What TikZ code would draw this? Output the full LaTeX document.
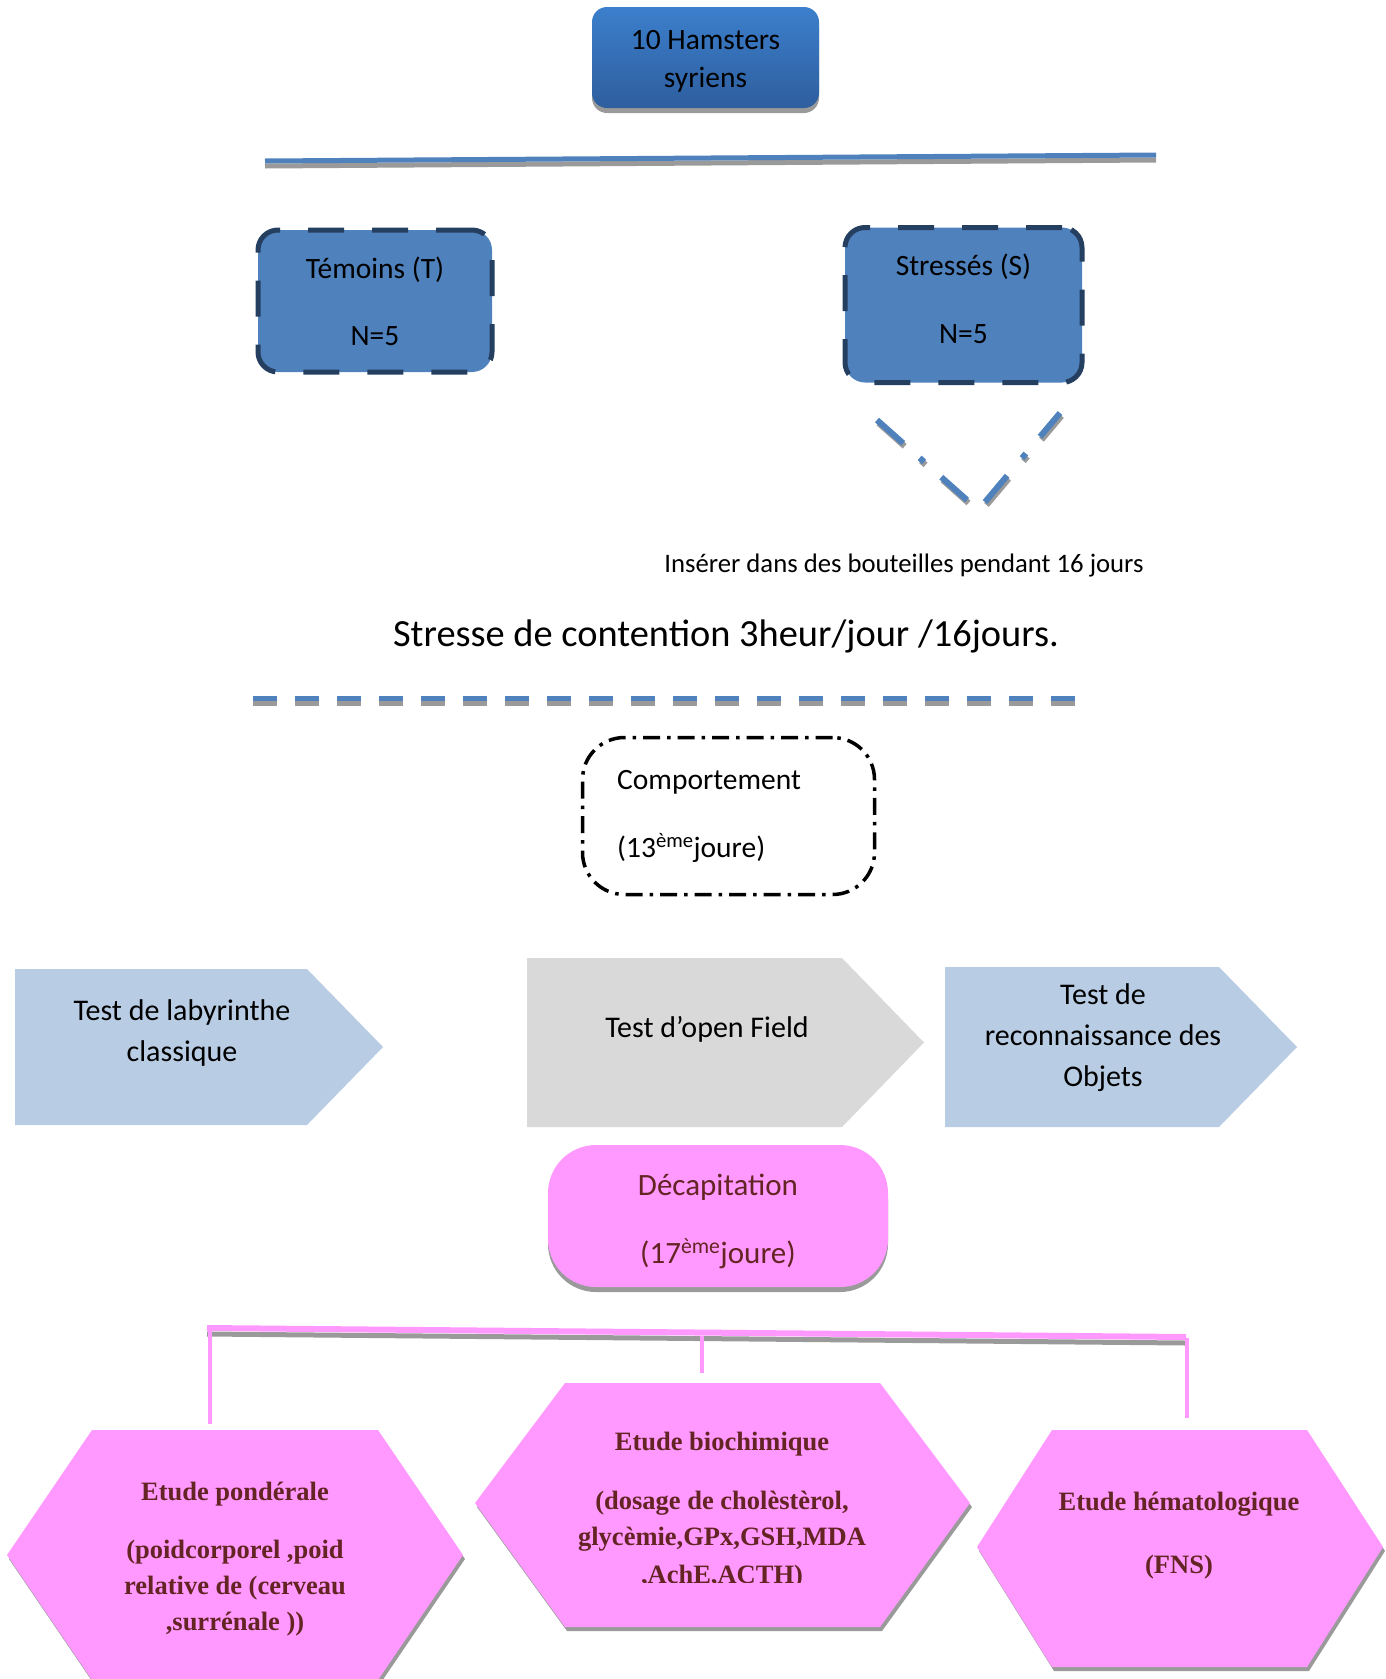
\documentclass[tikz,border=0pt]{standalone}
\usepackage{fontspec}
\setmainfont{Carlito}
\newfontfamily\tnrfont{Liberation Serif}
\usetikzlibrary{calc}
\definecolor{hamtop}{HTML}{3C7FCC}
\definecolor{hambot}{HTML}{2E5E9E}
\definecolor{grpfill}{HTML}{4F81BD}
\definecolor{grpline}{HTML}{243F60}
\definecolor{lineblue}{HTML}{4F81BD}
\definecolor{shadowgray}{HTML}{9A9A9A}
\definecolor{chevblue}{HTML}{B8CCE4}
\definecolor{chevgray}{HTML}{D9D9D9}
\definecolor{pinkfill}{HTML}{FF99FF}
\definecolor{maroontxt}{HTML}{632423}
\begin{document}
\begin{tikzpicture}[x=1pt,y=-1pt,
  cal/.style={font=\fontsize{29.5}{35}\selectfont, anchor=base, inner sep=0pt},
  calsm/.style={font=\fontsize{26.7}{31}\selectfont, anchor=base, inner sep=0pt},
  calbig/.style={font=\fontsize{38.4}{44}\selectfont, anchor=base, inner sep=0pt},
  comptext/.style={font=\fontsize{29.5}{34}\selectfont, anchor=base west, inner sep=0pt},
  dectext/.style={font=\fontsize{31}{36}\selectfont, text=maroontxt, anchor=base, inner sep=0pt},
  hexfont/.style={font=\tnrfont\bfseries\fontsize{26.5}{32}\selectfont, text=maroontxt, anchor=base, inner sep=0pt},
  hambox/.style={rectangle, rounded corners=15pt, top color=hamtop, bottom color=hambot, draw=none, inner sep=0pt},
  grpbox/.style={rectangle, draw=grpline, fill=grpfill, line width=5pt, dash pattern=on 36pt off 28pt, rounded corners=20pt, inner sep=0pt},
  compbox/.style={rectangle, draw=black, line width=3.5pt, dash pattern=on 17pt off 7pt on 3.5pt off 7pt, rounded corners=42pt, inner sep=0pt},
  decbox/.style={rectangle, fill=pinkfill, rounded corners=48pt, inner sep=0pt},
  vline/.style={lineblue, line width=6pt},
  vshadow/.style={shadowgray, line width=6pt},
]
\useasboundingbox (0,0) rectangle (1385,1679);

% ---------- top box ----------
\fill[shadowgray, rounded corners=15pt] (592,13) rectangle (819,113);
\node[hambox, minimum width=227pt, minimum height=101pt] (ham) at (705.5,57.5) {};
\node[cal] (hamt1) at (705.5,49) {10 Hamsters};
\node[cal] (hamt2) at (705.5,87) {syriens};

% ---------- separator line ----------
\coordinate (sepL) at (265,161);
\coordinate (sepR) at (1156,155);
\draw[shadowgray, line width=5pt] ($(sepL)+(0,5)$) -- ($(sepR)+(0,5)$);
\draw[lineblue, line width=5pt] (sepL) -- (sepR);

% ---------- groups ----------
\node[grpbox, minimum width=234pt, minimum height=142pt] (tem) at (375,301) {};
\node[cal] (temt1) at (375,278) {Témoins (T)};
\node[cal] (temt2) at (375,345) {N=5};

\node[grpbox, minimum width=237pt, minimum height=155pt] (str) at (963.5,305) {};
\node[cal] (strt1) at (963.5,275) {Stressés (S)};
\node[cal] (strt2) at (963.5,343) {N=5};

% ---------- V dash-dot ----------
\coordinate (v1a) at (877,420);
\coordinate (v1b) at (967,500);
\coordinate (v2a) at (1060,413);
\coordinate (v2b) at (985,502);
\draw[vshadow, dash pattern=on 35pt off 22pt on 6pt off 23pt on 60pt] ($(v1a)+(1.5,3)$) -- ($(v1b)+(1.5,3)$);
\draw[vshadow, dash pattern=on 31pt off 22pt on 6pt off 23pt on 60pt] ($(v2a)+(1.5,3)$) -- ($(v2b)+(1.5,3)$);
\draw[vline, dash pattern=on 35pt off 22pt on 6pt off 23pt on 60pt] (v1a) -- (v1b);
\draw[vline, dash pattern=on 31pt off 22pt on 6pt off 23pt on 60pt] (v2a) -- (v2b);

% ---------- texts ----------
\node[calsm] (ins) at (904,572) {Insérer dans des bouteilles pendant 16 jours};
\node[calbig] (stc) at (726,646) {Stresse de contention 3heur/jour /16jours.};

% ---------- dashed separator ----------
\coordinate (dsL) at (253,698);
\coordinate (dsR) at (1075,698);
\draw[shadowgray, line width=5pt, dash pattern=on 24pt off 18pt] ($(dsL)+(0,5)$) -- ($(dsR)+(0,5)$);
\draw[lineblue, line width=5pt, dash pattern=on 24pt off 18pt] (dsL) -- (dsR);

% ---------- comportement ----------
\node[compbox, minimum width=292pt, minimum height=157pt] (comp) at (728.5,816) {};
\node[comptext] (compt1) at (617,789) {Comportement};
\node[comptext] (compt2) at (617,857) {(13\textsuperscript{ème}joure)};

% ---------- chevrons ----------
\fill[chevblue] (15,969) -- (307,969) -- (383,1047) -- (307,1125) -- (15,1125) -- cycle;
\node[cal, font=\fontsize{30}{35}\selectfont] (lab1) at (182,1020) {Test de labyrinthe};
\node[cal, font=\fontsize{30}{35}\selectfont] (lab2) at (182,1061) {classique};

\fill[chevgray] (527,958) -- (842,958) -- (924,1042.5) -- (842,1127) -- (527,1127) -- cycle;
\node[cal, font=\fontsize{30}{35}\selectfont] (opf) at (707,1037) {Test d’open Field};

\fill[chevblue] (945,967) -- (1219,967) -- (1297,1047) -- (1219,1127) -- (945,1127) -- cycle;
\node[cal, font=\fontsize{30}{35}\selectfont] (rec1) at (1103,1004) {Test de};
\node[cal, font=\fontsize{30}{35}\selectfont] (rec2) at (1103,1045) {reconnaissance des};
\node[cal, font=\fontsize{30}{35}\selectfont] (rec3) at (1103,1086) {Objets};

% ---------- decapitation ----------
\fill[shadowgray, rounded corners=48pt] (548,1151) rectangle (888,1292);
\node[decbox, minimum width=340pt, minimum height=142pt] (dec) at (718,1216) {};
\node[dectext] (dect1) at (718,1195) {Décapitation};
\node[dectext] (dect2) at (718,1263) {(17\textsuperscript{ème}joure)};

% ---------- bracket ----------
\coordinate (brL) at (207,1328);
\coordinate (brR) at (1186,1337);
\coordinate (bl1) at (210,1326);
\coordinate (bl2) at (210,1424);
\coordinate (bm1) at (702,1336);
\coordinate (bm2) at (702,1373);
\coordinate (bq1) at (1187,1338);
\coordinate (bq2) at (1187,1418);
\draw[shadowgray, line width=5pt] ($(brL)+(0,6)$) -- ($(brR)+(0,6)$);
\draw[pinkfill, line width=6pt] (brL) -- (brR);
\draw[pinkfill, line width=4.5pt] (bl1) -- (bl2);
\draw[pinkfill, line width=4.5pt] (bm1) -- (bm2);
\draw[pinkfill, line width=4.5pt] (bq1) -- (bq2);

% ---------- hexagons ----------
\fill[shadowgray] (94,1434) -- (380,1434) -- (465,1559) -- (380,1684) -- (94,1684) -- (9,1559) -- cycle;
\fill[pinkfill] (92,1430) -- (378,1430) -- (463,1555) -- (378,1680) -- (92,1680) -- (7,1555) -- cycle;
\node[hexfont] (hp1) at (235,1500) {Etude pondérale};
\node[hexfont] (hp2) at (235,1558) {(poidcorporel ,poid};
\node[hexfont] (hp3) at (235,1594) {relative de (cerveau};
\node[hexfont] (hp4) at (235,1630) {,surrénale ))};

\fill[shadowgray] (567,1387) -- (882,1387) -- (972,1507) -- (882,1631) -- (567,1631) -- (477,1507) -- cycle;
\fill[pinkfill] (565,1383) -- (880,1383) -- (970,1503) -- (880,1627) -- (565,1627) -- (475,1503) -- cycle;
\node[hexfont] (hb1) at (722,1450) {Etude biochimique};
\node[hexfont] (hb2) at (722,1509) {(dosage de cholèstèrol,};
\node[hexfont] (hb3) at (722,1545) {glycèmie,GPx,GSH,MDA};
\begin{scope}
\clip (560,1550) rectangle (890,1582);
\node[hexfont] (hb4) at (722,1583) {,AchE,ACTH)};
\end{scope}

\fill[shadowgray] (1054,1434) -- (1309,1434) -- (1385,1551) -- (1309,1671) -- (1054,1671) -- (979,1551) -- cycle;
\fill[pinkfill] (1052,1430) -- (1307,1430) -- (1383,1547) -- (1307,1667) -- (1052,1667) -- (977,1547) -- cycle;
\node[hexfont] (hh1) at (1179,1510) {Etude hématologique};
\node[hexfont] (hh2) at (1179,1573) {(FNS)};
\end{tikzpicture}
\end{document}
